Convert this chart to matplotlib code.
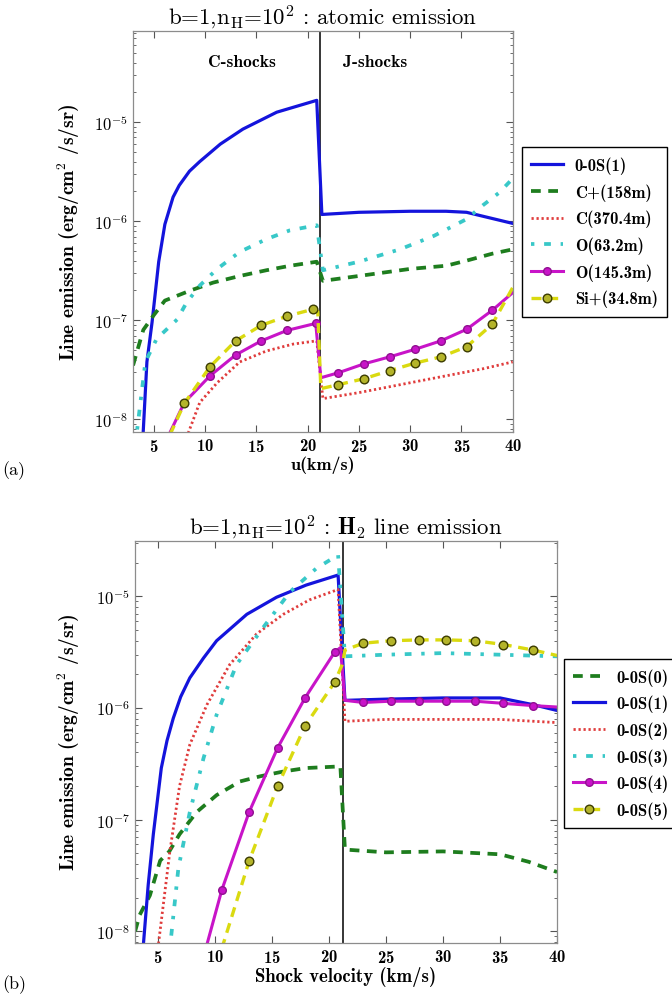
import numpy as np
import matplotlib.pyplot as plt
from matplotlib.ticker import LogLocator, FuncFormatter, NullFormatter, MultipleLocator
from matplotlib.font_manager import FontProperties

plt.rcParams['mathtext.fontset'] = 'cm'
plt.rcParams['axes.formatter.use_mathtext'] = True

# ---------------- panel (a): atomic emission ----------------
u_a_s1 = [3.9, 4.35, 4.85, 5.5, 6.1, 6.9, 7.5, 8.5, 9.5, 11.5, 13.7, 17.0, 20.9,
          21.4, 25.0, 30.0, 33.5, 35.5, 40.0]
a_s1 = [5e-9, 3.8e-8, 9.5e-8, 3.9e-7, 9.3e-7, 1.75e-6, 2.3e-6, 3.2e-6, 4.0e-6, 6.0e-6, 8.5e-6, 1.26e-5, 1.66e-5,
        1.17e-6, 1.23e-6, 1.26e-6, 1.26e-6, 1.23e-6, 9.5e-7]

u_a_cp = [3.0, 3.4, 4.0, 5.0, 6.1, 8.6, 10.8, 13.4, 16.0, 18.3, 20.9,
          21.5, 25.0, 30.0, 33.5, 35.5, 38.0, 40.0]
a_cp = [3.5e-8, 4.9e-8, 8.0e-8, 1.12e-7, 1.58e-7, 2.0e-7, 2.4e-7, 2.8e-7, 3.2e-7, 3.55e-7, 3.9e-7,
        2.5e-7, 2.8e-7, 3.3e-7, 3.55e-7, 4.0e-7, 4.7e-7, 5.2e-7]

u_a_c = [8.2, 9.5, 11.2, 13.4, 16.0, 18.6, 20.9,
         21.5, 25.0, 30.0, 33.5, 37.1, 40.0]
a_c = [6.5e-9, 1.48e-8, 2.34e-8, 3.8e-8, 4.9e-8, 5.75e-8, 6.2e-8,
       1.62e-8, 1.86e-8, 2.34e-8, 2.75e-8, 3.24e-8, 3.8e-8]

u_a_o63 = [3.4, 4.2, 5.3, 7.3, 8.2, 9.5, 11.2, 13.4, 16.0, 18.3, 20.9,
           21.5, 25.0, 29.0, 32.3, 35.5, 37.1, 38.7, 40.0]
a_o63 = [7.9e-9, 3.8e-8, 6.5e-8, 1.02e-7, 1.5e-7, 2.24e-7, 3.3e-7, 4.9e-7, 6.6e-7, 8.1e-7, 9.1e-7,
         3.2e-7, 3.9e-7, 5.2e-7, 7.1e-7, 1.05e-6, 1.45e-6, 1.95e-6, 2.7e-6]

u_a_o145 = [6.5, 8.0, 10.5, 13.0, 15.5, 18.0, 20.8,
            21.3, 23.0, 25.5, 28.0, 30.5, 33.0, 35.5, 38.0, 40.0]
a_o145 = [7e-9, 1.48e-8, 2.75e-8, 4.47e-8, 6.2e-8, 7.9e-8, 9.3e-8,
          2.63e-8, 2.95e-8, 3.63e-8, 4.27e-8, 5.1e-8, 6.2e-8, 8.1e-8, 1.26e-7, 1.9e-7]

u_a_si = [6.6, 8.0, 10.5, 13.0, 15.5, 18.0, 20.5, 21.0,
          21.3, 23.0, 25.5, 28.0, 30.5, 33.0, 35.5, 38.0, 40.0]
a_si = [7e-9, 1.45e-8, 3.4e-8, 6.2e-8, 8.9e-8, 1.1e-7, 1.29e-7, 1.23e-7,
        2.04e-8, 2.24e-8, 2.57e-8, 3.1e-8, 3.7e-8, 4.27e-8, 5.4e-8, 9.1e-8, 2.14e-7]

labels_a = ['0-0S(1)', 'C+(158m)', 'C(370.4m)', 'O(63.2m)', 'O(145.3m)', 'Si+(34.8m)']

# ---------------- panel (b): H2 line emission ----------------
u_b_s0 = [3.0, 3.4, 4.3, 5.2, 6.0, 6.9, 8.4, 10.15, 12.2, 14.0, 16.0, 18.0, 21.0,
          21.4, 25.0, 30.0, 35.0, 37.5, 40.0]
b_s0 = [1.0e-8, 1.4e-8, 2.1e-8, 4.3e-8, 5.2e-8, 7.4e-8, 1.17e-7, 1.66e-7, 2.2e-7, 2.45e-7, 2.7e-7, 2.9e-7, 3.0e-7,
        5.4e-8, 5.1e-8, 5.2e-8, 4.9e-8, 4.2e-8, 3.4e-8]

u_b_s1 = [3.7, 4.15, 4.6, 5.3, 5.8, 6.35, 7.0, 7.8, 9.0, 10.15, 12.8, 15.4, 18.0, 20.8,
          21.4, 25.0, 30.0, 35.0, 37.9, 40.0]
b_s1 = [7e-9, 2.6e-8, 7.4e-8, 2.9e-7, 5.1e-7, 8.1e-7, 1.26e-6, 1.86e-6, 2.8e-6, 4.0e-6, 6.9e-6, 9.8e-6, 1.26e-5, 1.55e-5,
        1.17e-6, 1.2e-6, 1.23e-6, 1.23e-6, 1.07e-6, 9.5e-7]

u_b_s2 = [5.0, 6.05, 6.9, 7.8, 9.3, 11.3, 13.65, 16.0, 18.3, 20.8,
          21.4, 25.0, 30.0, 35.0, 40.0]
b_s2 = [7e-9, 5.2e-8, 2.0e-7, 4.7e-7, 1.07e-6, 2.45e-6, 4.6e-6, 6.9e-6, 9.3e-6, 1.15e-5,
        7.6e-7, 7.9e-7, 7.9e-7, 7.9e-7, 7.4e-7]

u_b_s3 = [6.05, 6.8, 7.8, 9.0, 10.15, 11.9, 14.2, 16.6, 18.9, 20.8,
          21.4, 25.0, 30.0, 35.0, 40.0]
b_s3 = [7e-9, 3.7e-8, 1.17e-7, 3.55e-7, 8.7e-7, 2.45e-6, 5.2e-6, 1.1e-5, 1.78e-5, 2.34e-5,
        2.9e-6, 3.0e-6, 3.1e-6, 3.0e-6, 2.9e-6]

u_b_s4 = [9.2, 10.6, 13.0, 15.5, 17.9, 20.5, 21.0,
          21.4, 23.0, 25.4, 27.9, 30.3, 32.8, 35.3, 37.9, 40.0]
b_s4 = [7e-9, 2.34e-8, 1.17e-7, 4.4e-7, 1.23e-6, 3.16e-6, 3.47e-6,
        1.17e-6, 1.12e-6, 1.15e-6, 1.15e-6, 1.15e-6, 1.15e-6, 1.1e-6, 1.05e-6, 1.02e-6]

u_b_s5 = [10.6, 11.9, 13.0, 15.5, 17.9, 20.5, 21.2,
          21.4, 23.0, 25.4, 27.9, 30.3, 32.8, 35.3, 37.9, 40.0]
b_s5 = [7e-9, 1.86e-8, 4.27e-8, 2.0e-7, 6.9e-7, 1.7e-6, 2.5e-6,
        3.3e-6, 3.8e-6, 4.0e-6, 4.07e-6, 4.07e-6, 4.0e-6, 3.7e-6, 3.3e-6, 2.95e-6]

labels_b = ['0-0S(0)', '0-0S(1)', '0-0S(2)', '0-0S(3)', '0-0S(4)', '0-0S(5)']

u_switch = 21.2

# ---------------- styles ----------------
BLUE = dict(color='#1414dc', ls='-', lw=2.3)
GREEN = dict(color='#1e7d1e', ls=(0, (2.6, 2.0)), lw=2.7)
RED = dict(color='#e03c3c', ls=(0, (0.8, 1.0)), lw=2.0)
CYAN = dict(color='#38c8c8', ls=(0, (0.9, 2.6, 1.8, 2.6)), lw=2.7)
MAG = dict(color='#c814c8', ls='-', lw=2.2, marker='o', ms=5.5, mfc='#c814c8', mec='#901090')
YEL = dict(color='#dada10', ls=(0, (3, 2)), lw=2.4, marker='o', ms=6.2, mfc='#b4b42a', mec='#3c3c00')

bold = FontProperties(family='cmb10', size=12)
ylab = r'Line emission (erg/cm$^{\mathbf{2}}$ /s/sr)'


def style_axes(ax, ylim):
    ax.set_xlim(3.0, 40.0)
    ax.set_yscale('log')
    ax.set_ylim(*ylim)
    ax.xaxis.set_major_locator(MultipleLocator(5))
    ax.yaxis.set_major_locator(LogLocator(base=10, numticks=12))
    ax.yaxis.set_minor_locator(LogLocator(base=10, subs=np.arange(2, 10), numticks=12))
    ax.yaxis.set_minor_formatter(NullFormatter())
    ax.yaxis.set_major_formatter(FuncFormatter(
        lambda v, p: r'$\mathbf{10^{%d}}$' % int(round(np.log10(v)))))
    ax.tick_params(which='both', direction='in', top=True, right=True,
                   colors='#555555', labelcolor='black', labelsize=12)
    ax.tick_params(which='major', length=5)
    ax.tick_params(which='minor', length=2.5)
    for lab in ax.get_xticklabels():
        lab.set_fontproperties(bold)
    for s in ax.spines.values():
        s.set_color('#8c8c8c')
        s.set_linewidth(0.9)
    ax.axvline(u_switch, color='black', lw=1.1, zorder=1)


def add_legend(ax, x0, y0):
    leg = ax.legend(loc='upper left', bbox_to_anchor=(x0, y0), bbox_transform=fig.transFigure,
                    prop=bold, fancybox=False, edgecolor='black', framealpha=1,
                    borderaxespad=0, handlelength=1.9, handletextpad=0.7,
                    labelspacing=0.55, borderpad=0.55)
    leg.get_frame().set_linewidth(1.0)


fig = plt.figure(figsize=(6.72, 10.03), dpi=100)

# panel (a)
ax1 = fig.add_axes([0.198, 0.568, 0.565, 0.400])
ax1.plot(u_a_s1, a_s1, **BLUE, label=labels_a[0])
ax1.plot(u_a_cp, a_cp, **GREEN, label=labels_a[1])
ax1.plot(u_a_c, a_c, **RED, label=labels_a[2])
ax1.plot(u_a_o63, a_o63, **CYAN, label=labels_a[3])
ax1.plot(u_a_o145, a_o145, **MAG, markevery=[2, 3, 4, 5, 6, 8, 9, 10, 11, 12, 13, 14],
         label=labels_a[4])
ax1.plot(u_a_si, a_si, **YEL, markevery=[1, 2, 3, 4, 5, 6, 9, 10, 11, 12, 13, 14, 15],
         label=labels_a[5])
style_axes(ax1, (7.4e-9, 8.3e-5))
ax1.text(13.6, 4.1e-5, 'C-shocks', family='cmb10', size=12.5, ha='center', va='center')
ax1.text(26.6, 4.1e-5, 'J-shocks', family='cmb10', size=12.5, ha='center', va='center')
ax1.set_title(r'b=1,n$_{\rm H}$=10$^{2}$ : atomic emission', family='cmr10', size=16.5, pad=5)
ax1.set_xlabel('u(km/s)', family='cmb10', size=13, labelpad=1)
ax1.set_ylabel(ylab, family='cmb10', size=14)
ax1.yaxis.set_label_coords(-0.134, 0.5)
add_legend(ax1, 0.777, 0.852)

# panel (b)
ax2 = fig.add_axes([0.201, 0.059, 0.628, 0.401])
ax2.plot(u_b_s0, b_s0, **GREEN, label=labels_b[0])
ax2.plot(u_b_s1, b_s1, **BLUE, label=labels_b[1])
ax2.plot(u_b_s2, b_s2, **RED, label=labels_b[2])
ax2.plot(u_b_s3, b_s3, **CYAN, label=labels_b[3])
ax2.plot(u_b_s4, b_s4, **MAG, markevery=[1, 2, 3, 4, 5, 8, 9, 10, 11, 12, 13, 14],
         label=labels_b[4])
ax2.plot(u_b_s5, b_s5, **YEL, markevery=[2, 3, 4, 5, 8, 9, 10, 11, 12, 13, 14],
         label=labels_b[5])
style_axes(ax2, (7.9e-9, 3.15e-5))
ax2.set_title(r'b=1,n$_{\rm H}$=10$^{2}$ : $\mathbf{H}_{2}$ line emission', family='cmr10',
              size=16.5, pad=5)
ax2.set_xlabel('Shock velocity (km/s)', family='cmb10', size=13.5, labelpad=1)
ax2.set_ylabel(ylab, family='cmb10', size=14)
ax2.yaxis.set_label_coords(-0.126, 0.5)
add_legend(ax2, 0.839, 0.342)

fig.text(0.004, 0.531, '(a)', family='cmr10', size=13, va='center')
fig.text(0.004, 0.018, '(b)', family='cmr10', size=13, va='center')

fig.savefig('out.png', dpi=100)
